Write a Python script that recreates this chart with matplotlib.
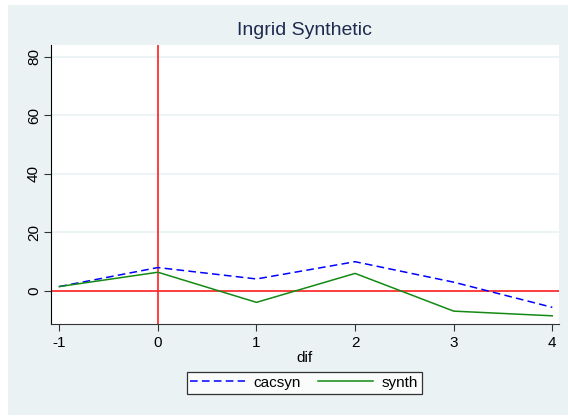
import matplotlib.pyplot as plt
from matplotlib.patches import Rectangle

plt.rcParams['font.family'] = ['Liberation Sans', 'DejaVu Sans']
plt.rcParams['axes.unicode_minus'] = False

dif = [-1, 0, 1, 2, 3, 4]
cacsyn = [1.5, 8.0, 4.1, 10.0, 3.0, -5.6]
synth = [1.5, 6.4, -3.9, 6.0, -6.9, -8.5]
yticks = [0, 20, 40, 60, 80]

bg = '#eaf2f3'
fig = plt.figure(figsize=(5.68, 4.17), dpi=100, facecolor='white')
fig.add_artist(Rectangle((8 / 568, 2 / 417), 1, 410 / 417,
                         transform=fig.transFigure, facecolor=bg,
                         edgecolor='none', zorder=-10))

ax = fig.add_axes([50.7 / 568, 1 - 324 / 417, (559 - 50.7) / 568, (324 - 45) / 417])
ax.set_facecolor('white')

for y in yticks:
    ax.axhline(y, color=bg, lw=1.2, zorder=1)

ax.axhline(0, color='#ff3030', lw=1.3, zorder=2)
ax.axvline(0, color='#ff3030', lw=1.3, zorder=2)

ax.plot(dif, cacsyn, color='#0000ff', lw=1.1, dashes=(5, 2.8), label='cacsyn', zorder=3)
ax.plot(dif, synth, color='#138a13', lw=1.1, label='synth', zorder=3)

ax.set_xlim(-1.087, 4.068)
ax.set_ylim(-11.3, 84.1)
ax.set_xticks(dif)
ax.set_yticks(yticks)
ax.set_yticklabels([str(v) for v in yticks], rotation=90, va='center')

for s in ['top', 'right']:
    ax.spines[s].set_visible(False)
ax.spines['left'].set_color('black')
ax.spines['bottom'].set_color('#333333')
ax.tick_params(direction='out', length=5, width=0.8, labelsize=11, color='#333333')
ax.tick_params(axis='y', pad=2)

ax.set_xlabel('dif', fontsize=11, labelpad=1)
ax.set_title('Ingrid Synthetic', fontsize=14, color='#1e2b50', pad=7)

leg = fig.legend(loc='upper center', bbox_to_anchor=(304 / 568, 1 - 372 / 417), ncol=2,
                 frameon=True, fancybox=False, edgecolor='black', fontsize=11,
                 handlelength=3.6, columnspacing=1.1, borderpad=0.25, handletextpad=0.55,
                 borderaxespad=0)
leg.get_frame().set_linewidth(0.9)

fig.savefig('out.png', dpi=100, facecolor=fig.get_facecolor())
